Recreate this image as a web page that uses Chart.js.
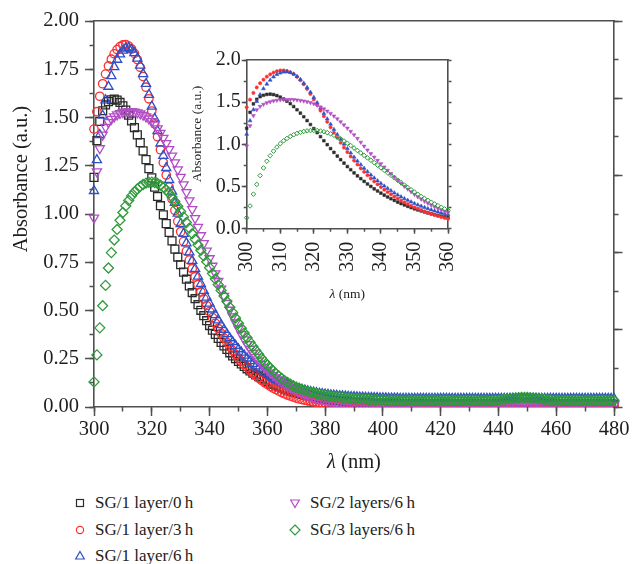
<!DOCTYPE html>
<html>
<head>
<meta charset="utf-8">
<script src="https://cdn.jsdelivr.net/npm/chart.js@4.4.1/dist/chart.umd.min.js"></script>
<style>
  body { margin: 0; background: #fff; }
  #wrap { position: relative; width: 632px; height: 564px; }
  #main { position: absolute; left: 0; top: 0; }
  #inset { position: absolute; left: 180px; top: 40px; }
  .item { position: absolute; height: 24px; display: flex; align-items: center;
          font: 17px "Liberation Serif", "Times New Roman", serif; color: #222; white-space: nowrap; }
  .item svg { margin-right: 7px; }
</style>
</head>
<body>
<div id="wrap">
  <canvas id="main" width="632" height="480"></canvas>
  <canvas id="inset" width="300" height="270"></canvas>
  <div id="legend"></div>
</div>
<script>
// scan grid: 300 - 480 nm, one reading per nm
const wavelengths = [];
for (let nm = 300; nm <= 480; nm++) wavelengths.push(nm);

const seriesLabels = ['SG/1 layer/0\u2009h', 'SG/1 layer/3\u2009h', 'SG/1 layer/6\u2009h', 'SG/2 layers/6\u2009h', 'SG/3 layers/6\u2009h'];

// absorbance, 300 nm first
const sg1Layer0h = [
  1.19, 1.38, 1.48, 1.535, 1.565, 1.582, 1.592, 1.595, 1.59, 1.578,
  1.56, 1.538, 1.512, 1.482, 1.448, 1.41, 1.37, 1.327, 1.282, 1.235,
  1.187, 1.139, 1.091, 1.043, 0.996, 0.95, 0.905, 0.861, 0.818, 0.777,
  0.737, 0.699, 0.662, 0.627, 0.593, 0.561, 0.53, 0.501, 0.473, 0.447,
  0.422, 0.398, 0.376, 0.355, 0.335, 0.316, 0.298, 0.281, 0.265, 0.25,
  0.236, 0.223, 0.21, 0.198, 0.187, 0.176, 0.166, 0.157, 0.148, 0.14,
  0.132, 0.124, 0.117, 0.11, 0.104, 0.098, 0.092, 0.087, 0.082, 0.077,
  0.073, 0.069, 0.065, 0.061, 0.058, 0.055, 0.052, 0.049, 0.047, 0.044,
  0.042, 0.04, 0.038, 0.036, 0.034, 0.033, 0.031, 0.03, 0.029, 0.028,
  0.027, 0.026, 0.025, 0.024, 0.023, 0.023, 0.022, 0.021, 0.021, 0.02,
  0.02, 0.019, 0.019, 0.018, 0.018, 0.018, 0.017, 0.017, 0.017, 0.016,
  0.016, 0.016, 0.016, 0.016, 0.015, 0.015, 0.015, 0.015, 0.015, 0.015,
  0.015, 0.015, 0.015, 0.014, 0.014, 0.014, 0.014, 0.014, 0.014, 0.014,
  0.014, 0.014, 0.014, 0.014, 0.014, 0.014, 0.015, 0.015, 0.016, 0.016,
  0.017, 0.018, 0.019, 0.02, 0.021, 0.022, 0.022, 0.023, 0.023, 0.023,
  0.023, 0.022, 0.022, 0.021, 0.02, 0.019, 0.018, 0.017, 0.016, 0.016,
  0.015, 0.015, 0.015, 0.015, 0.015, 0.014, 0.014, 0.014, 0.014, 0.014,
  0.014, 0.014, 0.014, 0.014, 0.014, 0.014, 0.014, 0.014, 0.014, 0.014,
  0.014
];
const sg1Layer3h = [
  1.44, 1.53, 1.61, 1.675, 1.725, 1.767, 1.802, 1.83, 1.852, 1.867,
  1.876, 1.878, 1.87, 1.855, 1.832, 1.8, 1.76, 1.712, 1.657, 1.597,
  1.533, 1.467, 1.4, 1.333, 1.267, 1.202, 1.139, 1.078, 1.019, 0.962,
  0.908, 0.857, 0.808, 0.761, 0.716, 0.674, 0.634, 0.596, 0.56, 0.526,
  0.494, 0.463, 0.434, 0.407, 0.381, 0.357, 0.334, 0.312, 0.292, 0.272,
  0.254, 0.237, 0.221, 0.205, 0.19, 0.176, 0.163, 0.15, 0.138, 0.127,
  0.117, 0.107, 0.098, 0.09, 0.082, 0.075, 0.068, 0.062, 0.056, 0.051,
  0.046, 0.042, 0.038, 0.035, 0.032, 0.029, 0.027, 0.025, 0.023, 0.021,
  0.02, 0.019, 0.018, 0.017, 0.016, 0.015, 0.014, 0.014, 0.013, 0.013,
  0.012, 0.012, 0.012, 0.011, 0.011, 0.011, 0.011, 0.01, 0.01, 0.01,
  0.01, 0.01, 0.01, 0.01, 0.01, 0.01, 0.01, 0.01, 0.01, 0.01,
  0.01, 0.01, 0.01, 0.01, 0.01, 0.01, 0.01, 0.01, 0.01, 0.01,
  0.01, 0.01, 0.01, 0.01, 0.01, 0.01, 0.01, 0.01, 0.01, 0.01,
  0.01, 0.01, 0.01, 0.01, 0.01, 0.01, 0.01, 0.01, 0.01, 0.01,
  0.01, 0.01, 0.01, 0.01, 0.01, 0.01, 0.01, 0.01, 0.01, 0.01,
  0.01, 0.01, 0.01, 0.01, 0.01, 0.01, 0.01, 0.01, 0.01, 0.01,
  0.01, 0.01, 0.01, 0.01, 0.01, 0.01, 0.01, 0.01, 0.01, 0.01,
  0.01, 0.01, 0.01, 0.01, 0.01, 0.01, 0.01, 0.01, 0.01, 0.01,
  0.01
];
const sg1Layer6h = [
  1.12, 1.28, 1.41, 1.51, 1.59, 1.66, 1.715, 1.762, 1.8, 1.828,
  1.847, 1.858, 1.86, 1.852, 1.834, 1.806, 1.77, 1.726, 1.675, 1.618,
  1.557, 1.494, 1.43, 1.366, 1.302, 1.239, 1.177, 1.117, 1.059, 1.003,
  0.949, 0.898, 0.849, 0.802, 0.758, 0.716, 0.676, 0.638, 0.602, 0.568,
  0.536, 0.506, 0.477, 0.45, 0.425, 0.401, 0.378, 0.357, 0.337, 0.318,
  0.3, 0.283, 0.267, 0.252, 0.238, 0.224, 0.211, 0.199, 0.188, 0.178,
  0.168, 0.159, 0.15, 0.142, 0.135, 0.128, 0.121, 0.115, 0.109, 0.104,
  0.099, 0.094, 0.09, 0.086, 0.082, 0.079, 0.076, 0.073, 0.07, 0.068,
  0.066, 0.064, 0.062, 0.06, 0.059, 0.057, 0.056, 0.055, 0.054, 0.053,
  0.052, 0.051, 0.05, 0.05, 0.049, 0.048, 0.048, 0.047, 0.047, 0.046,
  0.046, 0.046, 0.045, 0.045, 0.045, 0.045, 0.044, 0.044, 0.044, 0.044,
  0.044, 0.044, 0.044, 0.044, 0.044, 0.044, 0.044, 0.044, 0.044, 0.044,
  0.044, 0.044, 0.044, 0.043, 0.043, 0.043, 0.043, 0.043, 0.043, 0.043,
  0.043, 0.043, 0.043, 0.043, 0.043, 0.043, 0.043, 0.043, 0.043, 0.043,
  0.043, 0.043, 0.043, 0.043, 0.043, 0.043, 0.043, 0.043, 0.043, 0.043,
  0.043, 0.043, 0.043, 0.043, 0.043, 0.043, 0.043, 0.043, 0.043, 0.043,
  0.043, 0.043, 0.043, 0.043, 0.043, 0.043, 0.043, 0.043, 0.043, 0.043,
  0.043, 0.043, 0.043, 0.043, 0.043, 0.043, 0.043, 0.043, 0.043, 0.043,
  0.043
];
const sg2Layers6h = [
  0.98, 1.22, 1.34, 1.41, 1.45, 1.475, 1.492, 1.505, 1.515, 1.522,
  1.527, 1.53, 1.532, 1.532, 1.53, 1.526, 1.52, 1.513, 1.505, 1.494,
  1.48, 1.463, 1.443, 1.42, 1.394, 1.366, 1.335, 1.302, 1.267, 1.23,
  1.192, 1.153, 1.113, 1.07, 1.025, 0.978, 0.932, 0.889, 0.848, 0.809,
  0.77, 0.731, 0.692, 0.652, 0.613, 0.575, 0.538, 0.503, 0.469, 0.437,
  0.406, 0.377, 0.35, 0.325, 0.301, 0.279, 0.259, 0.24, 0.222, 0.206,
  0.191, 0.177, 0.164, 0.152, 0.141, 0.13, 0.12, 0.111, 0.102, 0.094,
  0.086, 0.079, 0.072, 0.066, 0.06, 0.055, 0.05, 0.046, 0.042, 0.038,
  0.035, 0.032, 0.029, 0.027, 0.025, 0.023, 0.021, 0.019, 0.018, 0.017,
  0.016, 0.015, 0.014, 0.013, 0.013, 0.012, 0.012, 0.011, 0.011, 0.01,
  0.01, 0.01, 0.01, 0.009, 0.009, 0.009, 0.009, 0.009, 0.009, 0.009,
  0.008, 0.008, 0.008, 0.008, 0.008, 0.008, 0.008, 0.008, 0.008, 0.008,
  0.008, 0.008, 0.008, 0.008, 0.008, 0.008, 0.008, 0.008, 0.008, 0.008,
  0.008, 0.008, 0.008, 0.008, 0.008, 0.008, 0.008, 0.008, 0.008, 0.008,
  0.008, 0.008, 0.008, 0.008, 0.008, 0.008, 0.008, 0.008, 0.008, 0.008,
  0.008, 0.008, 0.008, 0.008, 0.008, 0.008, 0.008, 0.008, 0.008, 0.008,
  0.008, 0.008, 0.008, 0.008, 0.008, 0.008, 0.008, 0.008, 0.008, 0.008,
  0.008, 0.008, 0.008, 0.008, 0.008, 0.008, 0.008, 0.008, 0.008, 0.008,
  0.008
];
const sg3Layers6h = [
  0.13, 0.27, 0.41, 0.525, 0.63, 0.72, 0.8, 0.865, 0.92, 0.968,
  1.008, 1.042, 1.07, 1.094, 1.114, 1.13, 1.143, 1.153, 1.16, 1.164,
  1.165, 1.163, 1.158, 1.15, 1.139, 1.125, 1.108, 1.088, 1.065, 1.04,
  1.013, 0.985, 0.956, 0.927, 0.898, 0.869, 0.84, 0.812, 0.783, 0.753,
  0.722, 0.692, 0.663, 0.633, 0.604, 0.575, 0.546, 0.517, 0.489, 0.461,
  0.434, 0.408, 0.383, 0.359, 0.336, 0.314, 0.293, 0.273, 0.253, 0.235,
  0.218, 0.202, 0.187, 0.173, 0.16, 0.148, 0.137, 0.127, 0.118, 0.11,
  0.103, 0.097, 0.091, 0.086, 0.081, 0.077, 0.073, 0.07, 0.067, 0.064,
  0.061, 0.059, 0.057, 0.055, 0.053, 0.051, 0.05, 0.048, 0.047, 0.046,
  0.045, 0.044, 0.043, 0.042, 0.041, 0.04, 0.039, 0.038, 0.038, 0.037,
  0.037, 0.036, 0.036, 0.036, 0.036, 0.035, 0.035, 0.035, 0.035, 0.035,
  0.035, 0.035, 0.035, 0.035, 0.035, 0.035, 0.035, 0.035, 0.035, 0.035,
  0.035, 0.035, 0.035, 0.035, 0.035, 0.035, 0.035, 0.035, 0.035, 0.035,
  0.035, 0.035, 0.035, 0.035, 0.035, 0.035, 0.035, 0.035, 0.035, 0.035,
  0.036, 0.038, 0.04, 0.042, 0.044, 0.046, 0.047, 0.048, 0.049, 0.049,
  0.049, 0.048, 0.047, 0.046, 0.044, 0.042, 0.04, 0.038, 0.037, 0.036,
  0.035, 0.035, 0.035, 0.035, 0.035, 0.035, 0.035, 0.035, 0.035, 0.035,
  0.035, 0.035, 0.035, 0.035, 0.035, 0.035, 0.035, 0.035, 0.035, 0.035,
  0.035
];
const seriesValues = [sg1Layer0h, sg1Layer3h, sg1Layer6h, sg2Layers6h, sg3Layers6h];

// marker look per series (main plot / inset)
const seriesStyles = [
  { color: '#2b2b2b', shape: 'rect', radius: 5.6, insetRadius: 1.9, fill: true },
  { color: '#ff2f2f', shape: 'circle', radius: 4.2, insetRadius: 1.6, fill: true },
  { color: '#2f4fc6', shape: 'triangle', radius: 5.3, insetRadius: 2.2, fill: true },
  { color: '#b34dc6', shape: 'triangle', radius: 5.3, insetRadius: 2.2, fill: true, rotation: 180 },
  { color: '#2f9a3b', shape: 'rectRot', radius: 5, insetRadius: 2.3, fill: false }
];

const serif = '"Liberation Serif", "Times New Roman", serif';
const ink = '#1e1e1e';
const frame = '#4f4f4f';

// draws "λ (nm)" with an italic lambda and the rotated y title
const axisCaptions = {
  id: 'axisCaptions',
  afterDraw(chart, args, o) {
    const { ctx, chartArea } = chart;
    ctx.save();
    ctx.fillStyle = ink;
    ctx.textBaseline = 'middle';
    const italic = 'italic ' + o.size + 'px ' + serif;
    const upright = o.size + 'px ' + serif;
    ctx.font = italic;
    const w1 = ctx.measureText('λ').width;
    ctx.font = upright;
    const w2 = ctx.measureText(' (nm)').width;
    const x = (chartArea.left + chartArea.right) / 2 - (w1 + w2) / 2;
    const y = chartArea.bottom + o.xGap;
    ctx.textAlign = 'left';
    ctx.font = italic;
    ctx.fillText('λ', x, y);
    ctx.font = upright;
    ctx.fillText(' (nm)', x + w1, y);
    ctx.translate(o.yX, o.yY);
    ctx.rotate(-Math.PI / 2);
    ctx.textAlign = 'center';
    ctx.fillText(o.yText, 0, 0);
    ctx.restore();
  }
};

function tickAxis(o) {
  return {
    type: 'linear',
    position: o.position,
    min: o.min,
    max: o.max,
    weight: o.weight || 0,
    ticks: {
      display: !!o.format,
      stepSize: o.step,
      autoSkip: false,
      padding: o.padding || 0,
      color: ink,
      font: { family: serif, size: o.fontSize || 20 },
      minRotation: o.rotation || 0,
      maxRotation: o.rotation || 0,
      callback: o.format || (() => '')
    },
    grid: {
      display: o.tickLength > 0,
      drawOnChartArea: false,
      drawTicks: true,
      tickLength: o.tickLength,
      tickColor: frame,
      tickWidth: 1.5
    },
    border: { display: !!o.border, color: frame, width: 1.6 },
    afterFit: s => { if (s.isHorizontal()) s.height = o.size; else s.width = o.size; }
  };
}

function datasets(inset) {
  return seriesValues.map((values, i) => {
    const s = seriesStyles[i];
    const pts = wavelengths.map((nm, k) => ({ x: nm, y: values[k] })).filter(p => !inset || p.x <= 360);
    const fill = inset && s.fill ? s.color : 'rgba(0,0,0,0)';
    return {
      label: seriesLabels[i],
      data: pts,
      xAxisID: 'x',
      yAxisID: 'y',
      showLine: false,
      order: seriesValues.length - i,
      pointStyle: s.shape,
      rotation: s.rotation || 0,
      pointRadius: inset ? s.insetRadius : s.radius,
      pointBorderWidth: inset ? (s.fill ? 0.6 : 1) : 1.3,
      borderColor: s.color,
      backgroundColor: fill,
      pointBorderColor: s.color,
      pointBackgroundColor: fill,
      clip: inset ? { left: 4, top: 4, right: 4, bottom: 0 } : { left: 8, top: 8, right: 8, bottom: 0 }
    };
  });
}

const common = { animation: false, responsive: false, events: [] };

new Chart(document.getElementById('main'), {
  type: 'scatter',
  data: { datasets: datasets(false) },
  plugins: [axisCaptions],
  options: {
    ...common,
    layout: { padding: { top: 21, left: 0, right: 0, bottom: 0 } },
    plugins: {
      legend: { display: false },
      tooltip: { enabled: false },
      axisCaptions: { size: 20.5, xGap: 56, yX: 22, yY: 179, yText: 'Absorbance (a.u.)' }
    },
    scales: {
      x: tickAxis({ position: 'bottom', min: 300, max: 480, step: 20, tickLength: 9, weight: 1, size: 73, border: true, padding: 1, fontSize: 20.5, format: v => v }),
      xMinor: tickAxis({ position: 'bottom', min: 300, max: 480, step: 10, tickLength: 4.5, weight: 0, size: 0 }),
      xTop: tickAxis({ position: 'top', min: 300, max: 480, step: 20, tickLength: 0, size: 0, border: true }),
      y: tickAxis({ position: 'left', min: 0, max: 2, step: 0.25, tickLength: 9, weight: 1, size: 94, border: true, padding: 6, fontSize: 20.5, format: v => v.toFixed(2) }),
      yMinor: tickAxis({ position: 'left', min: 0, max: 2, step: 0.125, tickLength: 4.5, weight: 0, size: 0 }),
      yRight: tickAxis({ position: 'right', min: 0, max: 5, step: 1, tickLength: 8.5, weight: 1, size: 18, border: true }),
      yRightMinor: tickAxis({ position: 'right', min: 0, max: 5, step: 0.5, tickLength: 4.5, weight: 0, size: 0 })
    }
  }
});

// inset: same scans, 300-360 nm
new Chart(document.getElementById('inset'), {
  type: 'scatter',
  data: { datasets: datasets(true) },
  plugins: [axisCaptions],
  options: {
    ...common,
    layout: { padding: { top: 20, left: 0, right: 0, bottom: 0 } },
    plugins: {
      legend: { display: false },
      tooltip: { enabled: false },
      axisCaptions: { size: 13.5, xGap: 66, yX: 17, yY: 94, yText: 'Absorbance (a.u.)' }
    },
    scales: {
      x: tickAxis({ position: 'bottom', min: 300, max: 360, step: 10, tickLength: 5, weight: 1, size: 81.3, border: true, padding: 8, fontSize: 20, rotation: 90, format: v => v }),
      xMinor: tickAxis({ position: 'bottom', min: 300, max: 360, step: 5, tickLength: 3, weight: 0, size: 0 }),
      xTop: tickAxis({ position: 'top', min: 300, max: 360, step: 10, tickLength: 0, size: 0, border: true }),
      y: tickAxis({ position: 'left', min: 0, max: 2, step: 0.5, tickLength: 5, weight: 1, size: 66.7, border: true, padding: 1, fontSize: 20, format: v => v.toFixed(1) }),
      yMinor: tickAxis({ position: 'left', min: 0, max: 2, step: 0.25, tickLength: 3, weight: 0, size: 0 }),
      yRight: tickAxis({ position: 'right', min: 0, max: 2, step: 0.25, tickLength: 3.5, weight: 1, size: 16.7, border: true })
    }
  }
});

// legend in two columns below the plot
function markerSvg(s) {
  const st = 'fill="none" stroke="' + s.color + '" stroke-width="1.2"';
  let shape;
  if (s.shape === 'rect') shape = '<rect x="4.5" y="4.5" width="7" height="7" ' + st + '/>';
  else if (s.shape === 'circle') shape = '<circle cx="8" cy="8" r="3.6" ' + st + '/>';
  else if (s.shape === 'triangle' && s.rotation) shape = '<polygon points="3.7,5 12.3,5 8,12.5" ' + st + '/>';
  else if (s.shape === 'triangle') shape = '<polygon points="8,3.5 12.3,11 3.7,11" ' + st + '/>';
  else shape = '<polygon points="8,3 13,8 8,13 3,8" ' + st + '/>';
  return '<svg width="16" height="16">' + shape + '</svg>';
}

const legend = document.getElementById('legend');
seriesLabels.forEach((label, i) => {
  const col = i < 3 ? 0 : 1;
  const row = i < 3 ? i : i - 3;
  const item = document.createElement('div');
  item.className = 'item';
  item.style.left = (col ? 287 : 72) + 'px';
  item.style.top = (491 + row * 26.5) + 'px';
  item.innerHTML = markerSvg(seriesStyles[i]) + '<span>' + label + '</span>';
  legend.appendChild(item);
});
</script>
</body>
</html>
